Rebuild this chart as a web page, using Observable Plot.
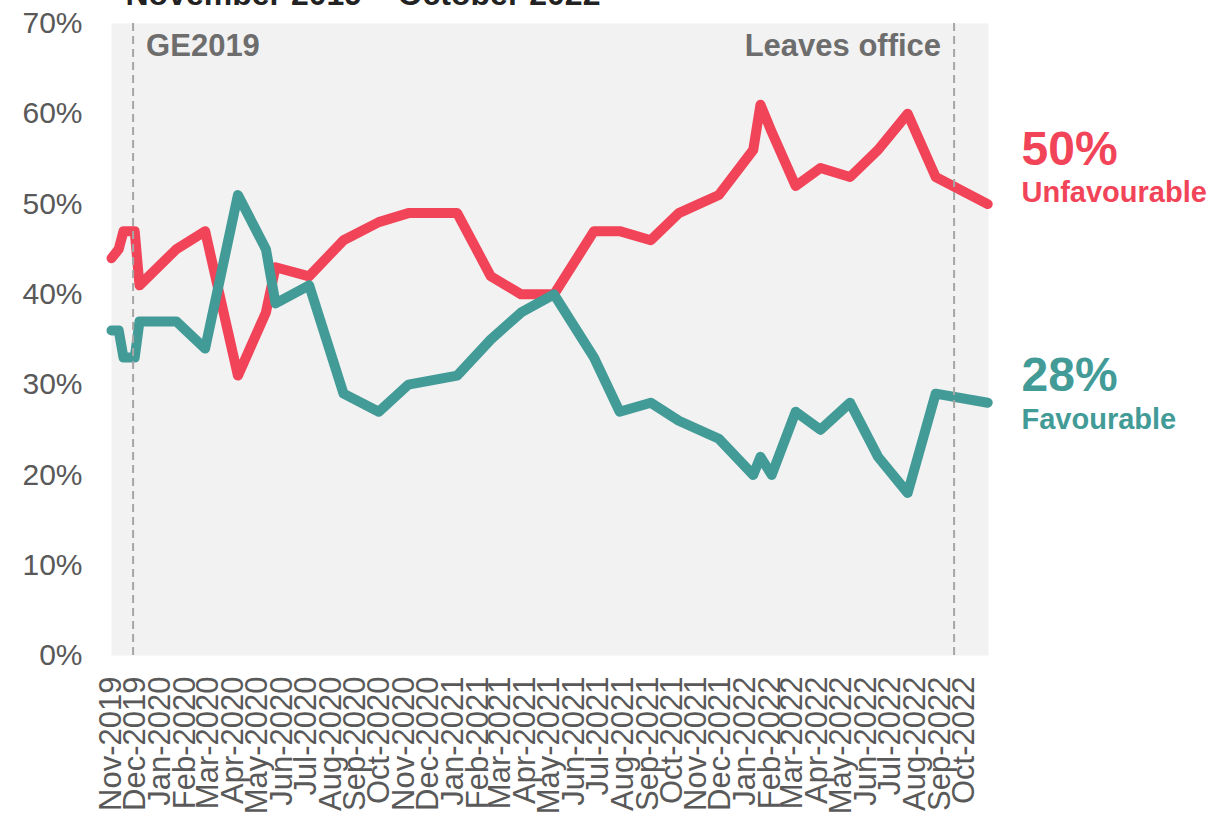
<!DOCTYPE html>
<html>
<head>
<meta charset="utf-8">
<script src="https://cdn.jsdelivr.net/npm/d3@7"></script>
<script src="https://cdn.jsdelivr.net/npm/@observablehq/plot@0.6"></script>
<style>
  html, body { margin: 0; padding: 0; background: #fff; }
  #chart svg { display: block; }
</style>
</head>
<body>
<div id="chart"></div>
<script>
// ---- Data ----
const titleText = "November 2019 – October 2022";
const dates = ["2019-11-01","2019-11-10","2019-11-16","2019-11-30","2019-12-06","2020-01-21","2020-02-26","2020-04-07","2020-05-12","2020-05-24","2020-07-05","2020-08-17","2020-09-30","2020-11-06","2021-01-06","2021-02-17","2021-03-27","2021-05-07","2021-06-26","2021-07-28","2021-09-05","2021-10-10","2021-11-29","2022-01-11","2022-01-20","2022-02-03","2022-03-05","2022-04-05","2022-05-12","2022-06-16","2022-07-23","2022-08-27","2022-10-31"];
const unfavourable = [44,45,47,47,41,45,47,31,38,43,42,46,48,49,49,42,40,40,47,47,46,49,51,56,61,58,52,54,53,56,60,53,50];
const favourable   = [36,36,33,33,37,37,34,51,45,39,41,29,27,30,31,35,38,40,33,27,28,26,24,20,22,20,27,25,28,22,18,29,28];
const seriesNames = ["Unfavourable", "Favourable"];
const monthTicks = ["2019-11","2019-12","2020-01","2020-02","2020-03","2020-04","2020-05","2020-06","2020-07","2020-08","2020-09","2020-10","2020-11","2020-12","2021-01","2021-02","2021-03","2021-04","2021-05","2021-06","2021-07","2021-08","2021-09","2021-10","2021-11","2021-12","2022-01","2022-02","2022-03","2022-04","2022-05","2022-06","2022-07","2022-08","2022-09","2022-10"];
const yTicks = [0,10,20,30,40,50,60,70];
const eventDates = ["2019-11-28","2022-09-19"];
const eventLabels = ["GE2019","Leaves office"];
const xDomain = ["2019-11-01","2022-11-01"];

// ---- Build ----
const parse = s => new Date(s.length === 7 ? s + "-01T00:00:00Z" : s + "T00:00:00Z");
const RED = "#F24458", TEAL = "#429B97";
const unfavData = dates.map((d, i) => ({date: parse(d), value: unfavourable[i]}));
const favData = dates.map((d, i) => ({date: parse(d), value: favourable[i]}));
const events = eventDates.map((d, i) => ({date: parse(d), label: eventLabels[i]}));
const tickDates = monthTicks.map(parse);
const lastDate = parse(xDomain[1]);
const lastU = unfavourable[unfavourable.length - 1];
const lastF = favourable[favourable.length - 1];

const chart = Plot.plot({
  width: 1229,
  height: 814,
  marginLeft: 111,
  marginRight: 241,
  marginTop: 23,
  marginBottom: 159,
  style: {fontFamily: "'Liberation Sans', Arial, sans-serif", background: "#fff", overflow: "visible"},
  x: {type: "utc", domain: xDomain.map(parse)},
  y: {domain: [0, 70]},
  marks: [
    Plot.frame({fill: "#f2f2f2", stroke: "none"}),
    Plot.axisY({ticks: yTicks, tickFormat: d => d + "%", tickSize: 0, tickPadding: 29, fontSize: 30, fill: "#595959", label: null}),
    Plot.axisX({ticks: tickDates, tickFormat: d3.utcFormat("%b-%Y"), tickRotate: -90, tickSize: 0, tickPadding: 21, fontSize: 31, fill: "#595959", label: null}),
    Plot.lineY(unfavData, {x: "date", y: "value", stroke: RED, strokeWidth: 10, strokeLinejoin: "round", strokeLinecap: "round"}),
    Plot.lineY(favData, {x: "date", y: "value", stroke: TEAL, strokeWidth: 10, strokeLinejoin: "round", strokeLinecap: "round"}),
    Plot.ruleX(events, {x: "date", y1: 70, y2: -0.5, stroke: "#a6a6a6", strokeWidth: 2, strokeDasharray: "8,5"}),
    Plot.text([events[0]], {x: "date", y: 70, text: "label", textAnchor: "start", lineAnchor: "bottom", dx: 13, dy: 32, fontSize: 31, fontWeight: "bold", fill: "#6d6d6d"}),
    Plot.text([events[1]], {x: "date", y: 70, text: "label", textAnchor: "end", lineAnchor: "bottom", dx: -13, dy: 32, fontSize: 31, fontWeight: "bold", fill: "#6d6d6d"}),
    Plot.text([{date: lastDate, value: lastU}], {x: "date", y: "value", text: d => d.value + "%", textAnchor: "start", lineAnchor: "bottom", dx: 33, dy: -39.5, fontSize: 48, fontWeight: "bold", fill: RED}),
    Plot.text([{date: lastDate, value: lastU}], {x: "date", y: "value", text: () => seriesNames[0], textAnchor: "start", lineAnchor: "bottom", dx: 33, dy: -2, fontSize: 29, fontWeight: "bold", fill: RED}),
    Plot.text([{date: lastDate, value: lastF}], {x: "date", y: "value", text: d => d.value + "%", textAnchor: "start", lineAnchor: "bottom", dx: 33, dy: -12, fontSize: 48, fontWeight: "bold", fill: TEAL}),
    Plot.text([{date: lastDate, value: lastF}], {x: "date", y: "value", text: () => seriesNames[1], textAnchor: "start", lineAnchor: "bottom", dx: 33, dy: 26, fontSize: 29, fontWeight: "bold", fill: TEAL}),
    Plot.text([titleText], {frameAnchor: "top-left", text: d => d, textAnchor: "start", lineAnchor: "bottom", dx: 14, dy: -19, fontSize: 32, fontWeight: "bold", fill: "#222"})
  ]
});
document.getElementById("chart").appendChild(chart);
</script>
</body>
</html>
